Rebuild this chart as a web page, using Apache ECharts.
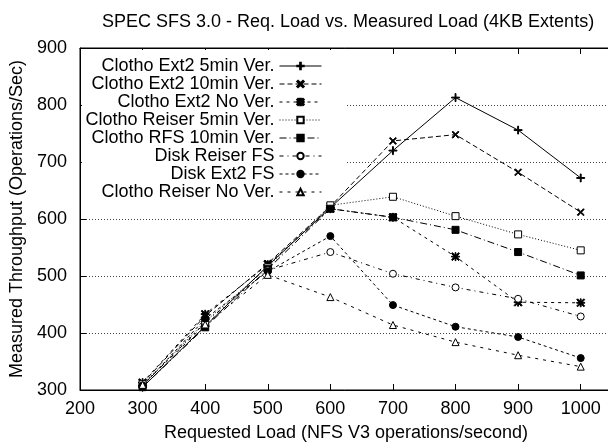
<!DOCTYPE html>
<html><head><meta charset="utf-8">
<script src="https://cdn.jsdelivr.net/npm/echarts@6/dist/echarts.min.js"></script>
<style>html,body{margin:0;padding:0;background:#fff}#c{width:608px;height:443px}</style>
</head><body><div id="c"></div>
<script>
const xValues = [300, 400, 500, 600, 700, 800, 900, 1000];
const names = ['Clotho Ext2 5min Ver.', 'Clotho Ext2 10min Ver.', 'Clotho Ext2 No Ver.', 'Clotho Reiser 5min Ver.', 'Clotho RFS 10min Ver.', 'Disk Reiser FS', 'Disk Ext2 FS', 'Clotho Reiser No Ver.'];
const ext2_5min   = [305, 412, 518, 620, 720, 813, 756, 672];
const ext2_10min  = [312, 430, 522, 622, 737, 748, 682, 612];
const ext2_nover  = [313, 433, 520, 618, 603, 534, 454, 453];
const reiser_5min = [310, 420, 515, 624, 639, 605, 573, 545];
const rfs_10min   = [305, 410, 512, 618, 603, 581, 542, 501];
const disk_reiser = [308, 418, 510, 542, 504, 480, 460, 429];
const disk_ext2   = [307, 425, 508, 570, 449, 411, 393, 356];
const reiser_nover= [309, 415, 502, 463, 414, 384, 361, 341];
const yTicks = [300, 400, 500, 600, 700, 800, 900];
const xTicks = [200, 300, 400, 500, 600, 700, 800, 900, 1000];

const allData = [ext2_5min, ext2_10min, ext2_nover, reiser_5min, rfs_10min, disk_reiser, disk_ext2, reiser_nover];
const FONT = "'Liberation Sans', Arial, Helvetica, sans-serif";
const plusPath = 'path://M4,0h1v4h4v1h-4v4h-1v-4h-4v-1h4z';
const xPath = 'path://M1,0L4.5,3.5L8,0L9,1L5.5,4.5L9,8L8,9L4.5,5.5L1,9L0,8L3.5,4.5L0,1z';
const starPath = 'path://M4,0h1v4h4v1h-4v4h-1v-4h-4v-1h4zM1,0L4.5,3.5L8,0L9,1L5.5,4.5L9,8L8,9L4.5,5.5L1,9L0,8L3.5,4.5L0,1z';
const styles = [
  {dash: 'solid', symbol: plusPath, size: 8, fill: '#000'},
  {dash: [5, 3], symbol: xPath, size: 7, fill: '#000'},
  {dash: [3, 4], symbol: starPath, size: 8, fill: '#000'},
  {dash: [1, 2], symbol: 'rect', size: 7, fill: '#fff'},
  {dash: [7, 3, 1, 3], symbol: 'rect', size: 7, fill: '#000'},
  {dash: [4, 4, 1, 4], symbol: 'circle', size: 7, fill: '#fff'},
  {dash: [3, 3], symbol: 'circle', size: 7, fill: '#000'},
  {dash: [3, 5], symbol: 'triangle', size: 7, fill: '#fff'}
];

const series = allData.map((d, i) => ({
  name: names[i],
  type: 'line',
  data: xValues.map((x, j) => [x, d[j]]),
  symbol: styles[i].symbol,
  symbolSize: styles[i].size,
  showAllSymbol: true,
  lineStyle: {color: '#000', width: 1, type: styles[i].dash},
  itemStyle: {color: styles[i].fill, borderColor: '#000', borderWidth: 1},
  emphasis: {disabled: true},
  animation: false,
  z: 3
}));

const chart = echarts.init(document.getElementById('c'), null, {renderer: 'canvas'});
chart.setOption({
  backgroundColor: '#fff',
  animation: false,
  title: {
    text: 'SPEC SFS 3.0 - Req. Load vs. Measured Load (4KB Extents)',
    left: 343, top: 8, textAlign: 'center',
    textStyle: {fontFamily: FONT, fontSize: 18, fontWeight: 'normal', color: '#000'}
  },
  grid: {left: 80, right: -4, top: 48, bottom: 53, outerBoundsMode: 'none', containLabel: false, show: true, borderColor: '#000', borderWidth: 1, backgroundColor: 'transparent'},
  legend: {
    orient: 'vertical', align: 'right', right: 286, top: 57, padding: 0,
    itemWidth: 42, itemHeight: 8, itemGap: 0,
    lineStyle: {width: 1},
    textStyle: {fontFamily: FONT, fontSize: 18, color: '#000'},
    data: names, selectedMode: false, z: 5
  },
  graphic: [{type: 'rect', z: 1, shape: {x: 82, y: 50, width: 265, height: 150}, style: {fill: '#fff'}}],
  xAxis: [{
    type: 'value', min: xTicks[0], max: 1050, interval: 100,
    name: 'Requested Load (NFS V3 operations/second)', nameLocation: 'middle', nameGap: 34,
    nameTextStyle: {fontFamily: FONT, fontSize: 18, color: '#000'},
    axisLine: {lineStyle: {color: '#000'}},
    axisTick: {inside: true, length: 6, lineStyle: {color: '#000'}},
    axisLabel: {fontFamily: FONT, fontSize: 18, color: '#000', margin: 10, showMaxLabel: false, formatter: v => String(v)},
    splitLine: {show: false}
  }, {
    type: 'value', position: 'top', min: xTicks[0], max: 1050, interval: 100,
    axisLine: {lineStyle: {color: '#000'}},
    axisTick: {inside: true, length: 6, lineStyle: {color: '#000'}},
    axisLabel: {show: false}, splitLine: {show: false}
  }],
  yAxis: {
    type: 'value', min: yTicks[0], max: yTicks[yTicks.length - 1], interval: 100,
    name: 'Measured Throughput (Operations/Sec)', nameLocation: 'middle', nameGap: 52,
    nameTextStyle: {fontFamily: FONT, fontSize: 18, color: '#000'},
    axisLine: {show: true, lineStyle: {color: '#000'}},
    axisTick: {show: true, inside: true, length: 6, lineStyle: {color: '#000'}},
    axisLabel: {fontFamily: FONT, fontSize: 18, color: '#000', margin: 13, formatter: v => String(v)},
    splitLine: {show: true, lineStyle: {color: '#444', width: 1, type: [1, 2]}}
  },
  series: series
});
</script></body></html>
